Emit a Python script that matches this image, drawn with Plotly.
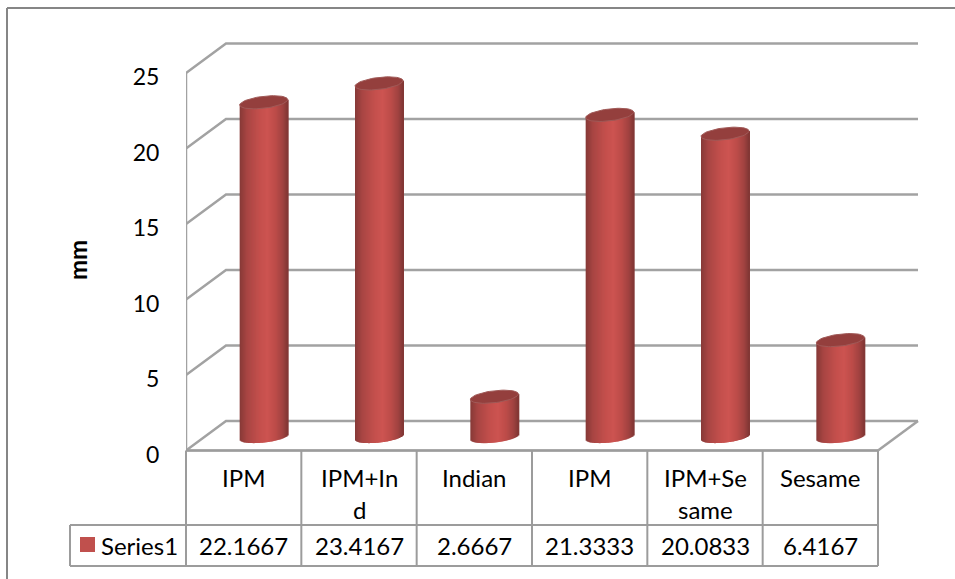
import math
import plotly.graph_objects as go

# Chart data
group_lines = [["IPM"], ["IPM+In", "d"], ["Indian"], ["IPM"], ["IPM+Se", "same"], ["Sesame"]]
series_name = "Series1"
series_labels = ["22.1667", "23.4167", "2.6667", "21.3333", "20.0833", "6.4167"]
series_values = [22.1667, 23.4167, 2.6667, 21.3333, 20.0833, 6.4167]
y_ticks = [0, 5, 10, 15, 20, 25]

# Page and plot geometry in pixels
W, H = 955, 579
FRONT_LEFT, FRONT_RIGHT = 186.0, 878.0
FLOOR_Y, TOP_Y = 450.5, 73.0
DEPTH_X, DEPTH_Y = 40.0, 29.5
BAR_FLOOR_Y = 437.0
RADIUS_PX = 24.0
CAP_MINOR_PX, TILT_PX = 6.0, 2.7
FOOT_MINOR_PX = 5.5

CAT_PX = (FRONT_RIGHT - FRONT_LEFT) / len(series_values)
VAL_PX = (FLOOR_Y - TOP_Y) / 25.0
dx, dy = DEPTH_X / CAT_PX, DEPTH_Y / VAL_PX
x_lo = -0.5
x_hi = x_lo + (W - FRONT_LEFT) / CAT_PX
n_cat = len(series_values)

GRID = "#a2a2a2"
TABLE = "#9c9c9c"
FONT = "Lato"
TEXT_SIZE = 24
TICK_SIZE = 23

fig = go.Figure()

# Side wall, back wall and floor lines
gx, gy = [], []
for t in y_ticks:
    gx += [x_lo, x_lo + dx, x_lo + n_cat + dx, None]
    gy += [t, t + dy, t + dy, None]
gx += [x_lo, x_lo, None, x_lo + n_cat, x_lo + n_cat + dx, None, x_lo, x_lo + n_cat]
gy += [0, 25, None, 0, dy, None, 0, 0]
fig.add_trace(go.Scatter(x=gx, y=gy, mode="lines", hoverinfo="skip",
                         line=dict(color=GRID, width=2.5), showlegend=False))

# Cylinder shading from left edge to right edge
stops = [(-1.0, (0x86, 0x39, 0x37)), (-0.7, (0xa8, 0x45, 0x43)), (-0.2, (0xc3, 0x4f, 0x4c)),
         (0.15, (0xcd, 0x54, 0x51)), (0.5, (0xbc, 0x4c, 0x49)), (0.8, (0xa0, 0x42, 0x40)),
         (1.0, (0x80, 0x36, 0x34))]


def shade(u):
    for (u0, c0), (u1, c1) in zip(stops, stops[1:]):
        if u <= u1:
            f = (u - u0) / (u1 - u0)
            return "rgb(%d,%d,%d)" % tuple(round(a + (b - a) * f) for a, b in zip(c0, c1))
    return "rgb(128,54,52)"


# Each cylinder body is a run of thin vertical bars that follow the rounded foot
strip_count = 48
strip_w = 2 * RADIUS_PX / strip_count
for s in range(strip_count):
    u = -1 + (s + 0.5) * 2 / strip_count
    tilt = TILT_PX / VAL_PX * u
    foot = -FOOT_MINOR_PX / VAL_PX * math.sqrt(max(0.0, 1 - u * u)) + tilt
    fig.add_trace(go.Bar(
        x=list(range(n_cat)),
        y=[v + tilt - foot for v in series_values],
        base=[foot] * n_cat,
        width=(strip_w + 1.0) / CAT_PX,
        offset=(u * RADIUS_PX - strip_w / 2) / CAT_PX,
        marker=dict(color=shade(u), line=dict(width=0)),
        xaxis="x2", yaxis="y2", hoverinfo="skip", showlegend=False,
    ))

# Elliptical top of each cylinder
a = RADIUS_PX / CAT_PX
b = CAP_MINOR_PX / VAL_PX
tl = TILT_PX / VAL_PX
for i, v in enumerate(series_values):
    ts = [2 * math.pi * k / 60 for k in range(61)]
    fig.add_trace(go.Scatter(
        x=[i + a * math.cos(t) for t in ts],
        y=[v + b * math.sin(t) + tl * math.cos(t) for t in ts],
        mode="lines", fill="toself", fillcolor="#943f3d",
        line=dict(color="#a05a58", width=1),
        xaxis="x2", yaxis="y2", hoverinfo="skip", showlegend=False,
    ))

# Data table beneath the plot
ROW1_Y, ROW2_Y, ROW3_Y = 450.5, 525.0, 566.0
LEGEND_LEFT = 70.0
shapes = []


def px_line(x0, y0, x1, y1, color=TABLE, width=2):
    shapes.append(dict(type="line", xref="paper", yref="paper",
                       x0=x0 / W, x1=x1 / W, y0=1 - y0 / H, y1=1 - y1 / H,
                       line=dict(color=color, width=width)))


for k in range(n_cat + 1):
    xk = FRONT_LEFT + k * CAT_PX
    px_line(xk, ROW1_Y, xk, ROW3_Y)
px_line(FRONT_LEFT, ROW1_Y, FRONT_RIGHT, ROW1_Y)
px_line(LEGEND_LEFT, ROW2_Y, FRONT_RIGHT, ROW2_Y)
px_line(LEGEND_LEFT, ROW3_Y, FRONT_RIGHT, ROW3_Y)
px_line(LEGEND_LEFT, ROW2_Y, LEGEND_LEFT, ROW3_Y)

# Outer chart frame, open at the right and bottom
px_line(7, 8, W, 8, color="#868686")
px_line(7, 8, 7, H, color="#868686")

# Legend key in the table
shapes.append(dict(type="rect", xref="paper", yref="paper",
                   x0=80 / W, x1=95 / W, y0=1 - 552 / H, y1=1 - 537 / H,
                   fillcolor="#c0504d", line=dict(width=0)))

annotations = []


def label(text, x, y_px, xref="x", xanchor="center", **extra):
    annotations.append(dict(text=text, x=x, xref=xref, y=1 - y_px / H, yref="paper",
                            xanchor=xanchor, yanchor="middle", showarrow=False,
                            font=dict(family=FONT, size=TEXT_SIZE, color="#000000"), **extra))


for i, lines in enumerate(group_lines):
    for j, line in enumerate(lines):
        label(line, i, 477 + 32 * j)
    label(series_labels[i], i, 545)
label(series_name, 99 / W, 545, xref="paper", xanchor="left")

annotations.append(dict(text="<b>mm</b>", x=77 / W, y=1 - 260 / H, xref="paper", yref="paper",
                        textangle=-90, showarrow=False, xanchor="center", yanchor="middle",
                        font=dict(family=FONT, size=24, color="#000000")))

domain_x = [FRONT_LEFT / W, 1.0]
fig.update_layout(
    width=W, height=H, autosize=False,
    margin=dict(l=0, r=0, t=0, b=0),
    paper_bgcolor="white", plot_bgcolor="white",
    barmode="overlay", showlegend=False,
    font=dict(family=FONT, size=TEXT_SIZE, color="#000000"),
    xaxis=dict(domain=domain_x, range=[x_lo, x_hi], visible=False, fixedrange=True),
    yaxis=dict(domain=[0, 1], range=[FLOOR_Y / VAL_PX - H / VAL_PX, FLOOR_Y / VAL_PX],
               tickvals=y_ticks, ticks="outside", ticklen=21, tickcolor="rgba(0,0,0,0)",
               ticklabelshift=4,
               showgrid=False, zeroline=False, showline=False, automargin=False,
               tickfont=dict(family=FONT, size=TICK_SIZE, color="#000000"), fixedrange=True),
    xaxis2=dict(domain=domain_x, overlaying="x", visible=False, fixedrange=True,
                range=[x_lo - dx / 2, x_hi - dx / 2]),
    yaxis2=dict(domain=[0, 1], overlaying="y", visible=False, fixedrange=True,
                range=[BAR_FLOOR_Y / VAL_PX - H / VAL_PX, BAR_FLOOR_Y / VAL_PX]),
    shapes=shapes, annotations=annotations,
)

fig.write_html("out.html", config=dict(displayModeBar=False))
